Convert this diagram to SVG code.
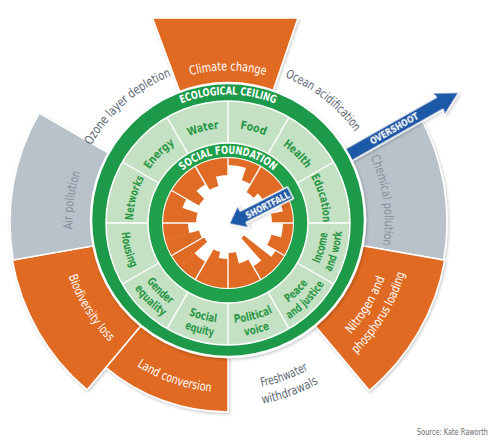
<svg xmlns="http://www.w3.org/2000/svg" width="494" height="440" viewBox="0 0 494 440">
<defs>
<style>
.f{font-family:"Liberation Sans Narrow","DejaVu Sans Condensed","Open Sans",sans-serif;font-stretch:condensed}
.out{font-size:12.5px}
.w{fill:#fff}
.dg{fill:#5d6874}
.lg{fill:#858f99}
.cell{font-size:11.5px;fill:#2b9848;font-weight:bold}
.ring{font-size:11px;fill:#fff;font-weight:bold}
.orng{fill:#e06b24}
.gray{fill:#b9c2ca}
.seg{stroke:#fff;stroke-width:1.5;stroke-linejoin:round}
.wd{fill:none;stroke:#e06b24}
.sep{stroke:#fff;stroke-width:1.4}
.arrow{fill:#1b5aa7;stroke:#fff;stroke-width:1.3;stroke-linejoin:round}
.at{font-size:9.5px;font-weight:bold;fill:#fff}
</style>
<filter id="sh" x="-10%" y="-10%" width="120%" height="120%"><feDropShadow dx="1" dy="1.5" stdDeviation="1.5" flood-color="#000" flood-opacity="0.22"/></filter>
<path id="pClimate" d="M152.25,90.8 A151.5,151.5 0 0 1 303.75,90.8"/>
<path id="pOcean" d="M249.7,67.9 A155.6,155.6 0 0 1 372.3,163.7"/>
<path id="pChem" d="M351.4,125.6 A156.6,156.6 0 0 1 373.2,280.7"/>
<path id="pNit1" d="M308.7,367.5 A166.4,166.4 0 0 0 394.4,224.9"/>
<path id="pNit2" d="M317.3,383.1 A184.2,184.2 0 0 0 412.2,225.2"/>
<path id="pFw1" d="M198.8,387.6 A168.2,168.2 0 0 0 356.8,330.1"/>
<path id="pFw2" d="M196,404.2 A185,185 0 0 0 369.7,340.9"/>
<path id="pLand" d="M99.4,333.8 A170.4,170.4 0 0 0 260.5,389.3"/>
<path id="pBio" d="M59.7,227.9 A168.4,168.4 0 0 0 148.9,370.7"/>
<path id="pAir" d="M83.7,280.3 A155.6,155.6 0 0 1 105.4,126.2"/>
<path id="pOzone" d="M73.3,197.5 A156.6,156.6 0 0 1 225.3,65.4"/>
<path id="pEco" d="M119.3,157.25 A125.5,125.5 0 0 1 336.7,157.25"/>
<path id="pSoc" d="M159.85,211 A69.2,69.2 0 0 1 296.15,211"/>
<path id="pUp" d="M138.73,255.49 A95,95 0 1 1 317.27,255.49"/>
<path id="pLo1" d="M134.03,188.8 A100,100 0 1 0 321.97,188.8"/>
<path id="pLo2" d="M120.87,184.01 A114,114 0 1 0 335.13,184.01"/>
<path id="pLoH" d="M127.45,186.4 A107,107 0 1 0 328.55,186.4"/>
</defs>
<rect width="494" height="440" fill="#fff"/>

<!-- planetary boundary segments -->
<g id="segments" filter="url(#sh)">
  <path id="climate-change" class="orng seg" d="M228,222 L152.5,18 L298,18 Z"/>
  <path id="chemical-pollution" class="gray seg" d="M228,222 L417.7,112.5 A219,219 0 0 1 443.7,260 Z"/>
  <path id="nitrogen-phosphorus" class="orng seg" d="M228,222 L444.7,260.2 A220,220 0 0 1 369.4,390.5 Z"/>
  <path id="land-conversion" class="orng seg" d="M228,222 L228,412 A190,190 0 0 1 105.9,367.5 Z"/>
  <path id="biodiversity-loss" class="orng seg" d="M228,222 L87.2,389.8 A219,219 0 0 1 12.3,260 Z"/>
  <path id="air-pollution" class="gray seg" d="M228,222 L13.3,259.9 A218,218 0 0 1 39.2,113 Z"/>
</g>

<!-- overshoot arrow (connector) -->
<g id="connectors">
  <g id="overshoot" transform="translate(340.5,159.4) rotate(-29.5)" filter="url(#sh)">
    <polygon class="arrow" points="0,-7 114,-7 112,-13 136,0 112,13 114,7 0,7"/>
    <text class="f at" x="62" y="3.5" text-anchor="middle" textLength="54" lengthAdjust="spacingAndGlyphs">OVERSHOOT</text>
  </g>
</g>

<!-- rings -->
<g id="ecological-ceiling">
  <circle cx="228" cy="220" r="137" fill="#1f9a48" stroke="#fff" stroke-width="2.5" filter="url(#sh)"/>
  <text class="f ring"><textPath href="#pEco" startOffset="50%" text-anchor="middle" textLength="96" lengthAdjust="spacingAndGlyphs">ECOLOGICAL CEILING</textPath></text>
</g>
<g id="social-band">
  <circle cx="228" cy="223" r="122" fill="#c5e1c3" stroke="#fff" stroke-width="1.5"/>
  <line class="sep" x1="350" y1="223" x2="106" y2="223"/>
  <line class="sep" x1="333.66" y1="162" x2="122.34" y2="284"/>
  <line class="sep" x1="289" y1="117.34" x2="167" y2="328.66"/>
  <line class="sep" x1="228" y1="101" x2="228" y2="345"/>
  <line class="sep" x1="167" y1="117.34" x2="289" y2="328.66"/>
  <line class="sep" x1="122.34" y1="162" x2="333.66" y2="284"/>
</g>
<g id="social-foundation">
  <circle cx="228" cy="223" r="80" fill="#21a04b" stroke="#fff" stroke-width="1.5"/>
  <circle cx="228" cy="223" r="66" fill="#fff"/>
  <text class="f ring" font-size="10.5"><textPath href="#pSoc" startOffset="50%" text-anchor="middle" textLength="99" lengthAdjust="spacingAndGlyphs">SOCIAL FOUNDATION</textPath></text>
</g>

<!-- shortfall wedges -->
<g id="shortfall-wedges">
  <circle class="wd" cx="228" cy="223" r="54.5" stroke-width="21" stroke-dasharray="11.8 1000" transform="rotate(-12 228 223)"/>
  <circle class="wd" cx="228" cy="223" r="60.5" stroke-width="9" stroke-dasharray="10.9 1000" transform="rotate(-22 228 223)"/>
  <circle class="wd" cx="228" cy="223" r="52.5" stroke-width="25" stroke-dasharray="7.7 1000" transform="rotate(-30 228 223)"/>
  <circle class="wd" cx="228" cy="223" r="53.5" stroke-width="23" stroke-dasharray="14.4 1000" transform="rotate(-45 228 223)"/>
  <circle class="wd" cx="228" cy="223" r="50.5" stroke-width="29" stroke-dasharray="13.6 1000" transform="rotate(-60 228 223)"/>
  <circle class="wd" cx="228" cy="223" r="55" stroke-width="20" stroke-dasharray="11.9 1000" transform="rotate(-72 228 223)"/>
  <circle class="wd" cx="228" cy="223" r="61.5" stroke-width="7" stroke-dasharray="19.7 1000" transform="rotate(-90 228 223)"/>
  <circle class="wd" cx="228" cy="223" r="56.5" stroke-width="17" stroke-dasharray="15.2 1000" transform="rotate(-105 228 223)"/>
  <circle class="wd" cx="228" cy="223" r="51.5" stroke-width="27" stroke-dasharray="13.9 1000" transform="rotate(-120 228 223)"/>
  <circle class="wd" cx="228" cy="223" r="55" stroke-width="20" stroke-dasharray="14.8 1000" transform="rotate(-135 228 223)"/>
  <circle class="wd" cx="228" cy="223" r="49.5" stroke-width="31" stroke-dasharray="13.4 1000" transform="rotate(-150 228 223)"/>
  <circle class="wd" cx="228" cy="223" r="56.5" stroke-width="17" stroke-dasharray="12.2 1000" transform="rotate(-162 228 223)"/>
  <circle class="wd" cx="228" cy="223" r="48.5" stroke-width="33" stroke-dasharray="15.6 1000" transform="rotate(-180 228 223)"/>
  <circle class="wd" cx="228" cy="223" r="52.5" stroke-width="25" stroke-dasharray="14.1 1000" transform="rotate(-195 228 223)"/>
  <circle class="wd" cx="228" cy="223" r="47.5" stroke-width="35" stroke-dasharray="12.8 1000" transform="rotate(-210 228 223)"/>
  <circle class="wd" cx="228" cy="223" r="46.5" stroke-width="37" stroke-dasharray="10.1 1000" transform="rotate(-222 228 223)"/>
  <circle class="wd" cx="228" cy="223" r="55" stroke-width="20" stroke-dasharray="17.6 1000" transform="rotate(-240 228 223)"/>
  <circle class="wd" cx="228" cy="223" r="47.5" stroke-width="35" stroke-dasharray="12.8 1000" transform="rotate(-255 228 223)"/>
  <circle class="wd" cx="228" cy="223" r="50.5" stroke-width="29" stroke-dasharray="13.6 1000" transform="rotate(-270 228 223)"/>
  <circle class="wd" cx="228" cy="223" r="47.5" stroke-width="35" stroke-dasharray="12.8 1000" transform="rotate(-285 228 223)"/>
  <circle class="wd" cx="228" cy="223" r="53.5" stroke-width="23" stroke-dasharray="14.4 1000" transform="rotate(-300 228 223)"/>
  <circle class="wd" cx="228" cy="223" r="57.5" stroke-width="15" stroke-dasharray="12.4 1000" transform="rotate(-312 228 223)"/>
  <circle class="wd" cx="228" cy="223" r="42.5" stroke-width="45" stroke-dasharray="7.8 1000" transform="rotate(-322 228 223)"/>
  <circle class="wd" cx="228" cy="223" r="60" stroke-width="10" stroke-dasharray="8.7 1000" transform="rotate(-330 228 223)"/>
  <circle class="wd" cx="228" cy="223" r="55" stroke-width="20" stroke-dasharray="14.8 1000" transform="rotate(-345 228 223)"/>
  <circle class="wd" cx="228" cy="223" r="60" stroke-width="10" stroke-dasharray="16.1 1000" transform="rotate(-360 228 223)"/>
  <line class="sep" x1="294" y1="223" x2="162" y2="223"/>
  <line class="sep" x1="285.16" y1="190" x2="170.84" y2="256"/>
  <line class="sep" x1="261" y1="165.84" x2="195" y2="280.16"/>
  <line class="sep" x1="228" y1="157" x2="228" y2="289"/>
  <line class="sep" x1="195" y1="165.84" x2="261" y2="280.16"/>
  <line class="sep" x1="170.84" y1="190" x2="285.16" y2="256"/>
  <circle cx="228" cy="223" r="20" fill="#fff"/>
</g>

<!-- shortfall arrow -->
<g id="shortfall" transform="translate(229,224) rotate(-27)" filter="url(#sh)">
  <polygon class="arrow" points="0,0 16,-12.5 16,-6.5 69,-6.5 69,6.5 16,6.5 16,12.5"/>
  <text class="f at" x="43" y="3.5" text-anchor="middle" textLength="48" lengthAdjust="spacingAndGlyphs">SHORTFALL</text>
</g>

<!-- outer labels -->
<g id="label-climate"><text class="f out w" font-size="13"><textPath href="#pClimate" startOffset="50%" text-anchor="middle" textLength="76" lengthAdjust="spacingAndGlyphs">Climate change</textPath></text></g>
<g id="label-ocean"><text class="f out dg"><textPath href="#pOcean" startOffset="50%" text-anchor="middle" textLength="90" lengthAdjust="spacingAndGlyphs">Ocean acidification</textPath></text></g>
<g id="label-chemical"><text class="f out lg"><textPath href="#pChem" startOffset="50%" text-anchor="middle" textLength="90" lengthAdjust="spacingAndGlyphs">Chemical pollution</textPath></text></g>
<g id="label-nitrogen">
  <text class="f out w"><textPath href="#pNit1" startOffset="50%" text-anchor="middle" textLength="66" lengthAdjust="spacingAndGlyphs">Nitrogen and</textPath></text>
  <text class="f out w"><textPath href="#pNit2" startOffset="50%" text-anchor="middle" textLength="95" lengthAdjust="spacingAndGlyphs">phosphorus loading</textPath></text>
</g>
<g id="label-freshwater">
  <text class="f out dg" font-size="12"><textPath href="#pFw1" startOffset="50%" text-anchor="middle" textLength="50" lengthAdjust="spacingAndGlyphs">Freshwater</textPath></text>
  <text class="f out dg" font-size="12"><textPath href="#pFw2" startOffset="50%" text-anchor="middle" textLength="60" lengthAdjust="spacingAndGlyphs">withdrawals</textPath></text>
</g>
<g id="label-land"><text class="f out w"><textPath href="#pLand" startOffset="50%" text-anchor="middle" textLength="79" lengthAdjust="spacingAndGlyphs">Land conversion</textPath></text></g>
<g id="label-biodiversity"><text class="f out w"><textPath href="#pBio" startOffset="50%" text-anchor="middle" textLength="78" lengthAdjust="spacingAndGlyphs">Biodiversity loss</textPath></text></g>
<g id="label-air"><text class="f out lg"><textPath href="#pAir" startOffset="50%" text-anchor="middle" textLength="58" lengthAdjust="spacingAndGlyphs">Air pollution</textPath></text></g>
<g id="label-ozone"><text class="f out dg"><textPath href="#pOzone" startOffset="50%" text-anchor="middle" textLength="108" lengthAdjust="spacingAndGlyphs">Ozone layer depletion</textPath></text></g>

<!-- social foundation cells -->
<g id="cell-water"><text class="f cell"><textPath href="#pUp" startOffset="157.5" text-anchor="middle" textLength="31" lengthAdjust="spacingAndGlyphs">Water</textPath></text></g>
<g id="cell-food"><text class="f cell"><textPath href="#pUp" startOffset="207.3" text-anchor="middle" textLength="26" lengthAdjust="spacingAndGlyphs">Food</textPath></text></g>
<g id="cell-health"><text class="f cell"><textPath href="#pUp" startOffset="257" text-anchor="middle" textLength="33" lengthAdjust="spacingAndGlyphs">Health</textPath></text></g>
<g id="cell-education"><text class="f cell"><textPath href="#pUp" startOffset="306.7" text-anchor="middle" textLength="48" lengthAdjust="spacingAndGlyphs">Education</textPath></text></g>
<g id="cell-energy"><text class="f cell"><textPath href="#pUp" startOffset="107.8" text-anchor="middle" textLength="36" lengthAdjust="spacingAndGlyphs">Energy</textPath></text></g>
<g id="cell-networks"><text class="f cell"><textPath href="#pUp" startOffset="58" text-anchor="middle" textLength="44" lengthAdjust="spacingAndGlyphs">Networks</textPath></text></g>
<g id="cell-housing"><text class="f cell"><textPath href="#pLoH" startOffset="65.4" text-anchor="middle" textLength="37" lengthAdjust="spacingAndGlyphs">Housing</textPath></text></g>
<g id="cell-gender">
  <text class="f cell"><textPath href="#pLo1" startOffset="113.4" text-anchor="middle" textLength="33" lengthAdjust="spacingAndGlyphs">Gender</textPath></text>
  <text class="f cell"><textPath href="#pLo2" startOffset="129.3" text-anchor="middle" textLength="40" lengthAdjust="spacingAndGlyphs">equality</textPath></text>
</g>
<g id="cell-social-equity">
  <text class="f cell"><textPath href="#pLo1" startOffset="165.8" text-anchor="middle" textLength="29" lengthAdjust="spacingAndGlyphs">Social</textPath></text>
  <text class="f cell"><textPath href="#pLo2" startOffset="189" text-anchor="middle" textLength="30" lengthAdjust="spacingAndGlyphs">equity</textPath></text>
</g>
<g id="cell-political-voice">
  <text class="f cell"><textPath href="#pLo1" startOffset="218.2" text-anchor="middle" textLength="40" lengthAdjust="spacingAndGlyphs">Political</textPath></text>
  <text class="f cell"><textPath href="#pLo2" startOffset="248.7" text-anchor="middle" textLength="26" lengthAdjust="spacingAndGlyphs">voice</textPath></text>
</g>
<g id="cell-peace-justice">
  <text class="f cell"><textPath href="#pLo1" startOffset="270.5" text-anchor="middle" textLength="28" lengthAdjust="spacingAndGlyphs">Peace</textPath></text>
  <text class="f cell"><textPath href="#pLo2" startOffset="308.4" text-anchor="middle" textLength="50" lengthAdjust="spacingAndGlyphs">and justice</textPath></text>
</g>
<g id="cell-income-work">
  <text class="f cell"><textPath href="#pLo1" startOffset="322.9" text-anchor="middle" textLength="32" lengthAdjust="spacingAndGlyphs">Income</textPath></text>
  <text class="f cell"><textPath href="#pLo2" startOffset="368.1" text-anchor="middle" textLength="42" lengthAdjust="spacingAndGlyphs">and work</textPath></text>
</g>

<text id="source" class="f" x="488" y="435" text-anchor="end" font-size="9.5" fill="#6b6b6b" textLength="71" lengthAdjust="spacingAndGlyphs">Source: Kate Raworth</text>
</svg>
